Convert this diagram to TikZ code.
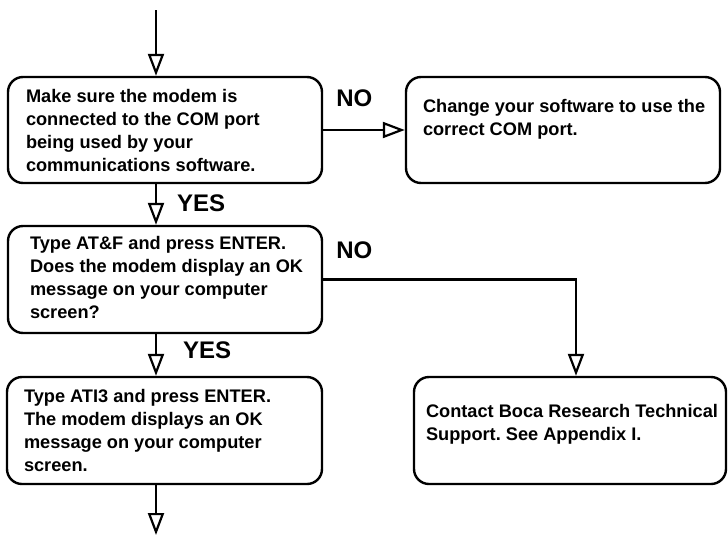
\documentclass[tikz,border=0pt]{standalone}
\usepackage{fontspec}
\setmainfont{Liberation Sans}
\usetikzlibrary{arrows.meta,positioning,calc}
\frenchspacing

\begin{document}
\begin{tikzpicture}[x=1pt, y=-1pt,
  box/.style={draw=black, rounded corners=15pt, minimum width=314pt, minimum height=106pt, line width=2.4pt, inner sep=0pt},
  edge/.style={-{Triangle[open, length=22pt, width=16pt]}, draw=black, line width=2.2pt},
  txt/.style={anchor=north west, align=left, inner sep=0pt, font=\bfseries\fontsize{18.2}{23}\selectfont},
  lbl/.style={anchor=base west, inner sep=0pt, font=\bfseries\fontsize{24}{28}\selectfont}
]
\useasboundingbox (0,0) rectangle (728,536);
\node[box] (a) at (165,130) {};
\node[box] (b) at (563,130) {};
\node[box, minimum height=107pt] (c) at (165,279.5) {};
\node[box, minimum width=315pt, minimum height=107pt] (e) at (164.5,430.5) {};
\node[box, minimum width=312pt, minimum height=107pt] (d) at (570,430.5) {};
\node[txt] (ta) at ($(a.north west)+(19,13)$) {Make sure the modem is\\connected to the COM port\\being used by your\\communications software.};
\node[txt] (tb) at ($(b.north west)+(18,23)$) {Change your software to use the\\correct COM port.};
\node[txt] (tc) at ($(c.north west)+(23,11)$) {Type AT\&F and press ENTER.\\Does the modem display an OK\\message on your computer\\screen?};
\node[txt] (te) at ($(e.north west)+(18,13)$) {Type ATI3 and press ENTER.\\The modem displays an OK\\message on your computer\\screen.};
\node[txt] (td) at ($(d.north west)+(13,28)$) {Contact Boca Research Technical\\Support. See~Appendix I.};
\coordinate (in) at (156,10);
\coordinate (out) at (156,535);
\draw[edge] (in) -- (a.north -| in);
\draw[edge] (a) -- (b);
\draw[edge] (a.south -| in) -- (c.north -| in);
\draw[edge] (c.south -| in) -- (e.north -| in);
\draw[edge] (e.south -| in) -- (out);
\draw[edge] (c.east) -| ([xshift=6pt]d.north);
\node[lbl] (no1) at ($(a.east)+(13,-24)$) {NO};
\node[lbl] (yes1) at ($(c.north -| in)+(21,-13)$) {YES};
\node[lbl] (no2) at ($(c.east)+(13,-21.5)$) {NO};
\node[lbl] (yes2) at ($(e.north -| in)+(27,-17)$) {YES};
\end{tikzpicture}
\end{document}
